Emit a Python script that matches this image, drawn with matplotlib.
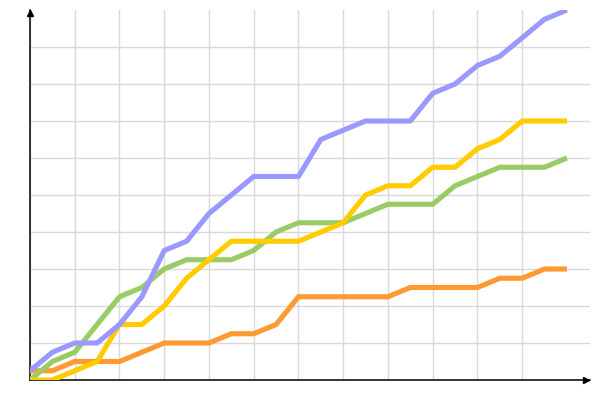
import numpy as np
import matplotlib
matplotlib.use("Agg")
import matplotlib.pyplot as plt

# values, one point per step
steps = list(range(25))
blue = [0.25, 0.75, 1, 1, 1.5, 2.25, 3.5, 3.75, 4.5, 5, 5.5, 5.5, 5.5,
        6.5, 6.75, 7, 7, 7, 7.75, 8, 8.5, 8.75, 9.25, 9.75, 10]
yellow = [0, 0, 0.25, 0.5, 1.5, 1.5, 2, 2.75, 3.25, 3.75, 3.75, 3.75, 3.75,
          4, 4.25, 5, 5.25, 5.25, 5.75, 5.75, 6.25, 6.5, 7, 7, 7]
green = [0, 0.5, 0.75, 1.5, 2.25, 2.5, 3, 3.25, 3.25, 3.25, 3.5, 4, 4.25,
         4.25, 4.25, 4.5, 4.75, 4.75, 4.75, 5.25, 5.5, 5.75, 5.75, 5.75, 6]
orange = [0.25, 0.25, 0.5, 0.5, 0.5, 0.75, 1, 1, 1, 1.25, 1.25, 1.5, 2.25,
          2.25, 2.25, 2.25, 2.25, 2.5, 2.5, 2.5, 2.5, 2.75, 2.75, 3, 3]

fig = plt.figure(figsize=(6, 4), dpi=100)
ax = fig.add_axes([0.05, 0.05, 0.9333, 0.925])

ax.set_xlim(0, 25.03)
ax.set_ylim(0, 10)
ax.set_xticks(np.arange(0, 24, 2))
ax.set_yticks(np.arange(0, 10, 1))
ax.grid(True, color="#d9d9d9", linewidth=1)
ax.set_axisbelow(True)
ax.tick_params(length=0, labelbottom=False, labelleft=False)

for s in ["top", "right"]:
    ax.spines[s].set_visible(False)
for s in ["left", "bottom"]:
    ax.spines[s].set_linewidth(1.1)
    ax.spines[s].set_color("black")

lw = 3.7
ax.plot(steps, orange, color="#ff9933", lw=lw, solid_capstyle="butt", zorder=3)
ax.plot(steps, green, color="#99cc66", lw=lw, solid_capstyle="butt", zorder=3)
ax.plot(steps, yellow, color="#ffcc00", lw=lw, solid_capstyle="butt", zorder=3)
ax.plot(steps, blue, color="#9999ff", lw=lw, solid_capstyle="butt", zorder=4)

# arrow heads on the axes
ax.plot(0, 0.992, marker="^", color="black", ms=4, transform=ax.transAxes, clip_on=False)
ax.plot(0.992, 0, marker=">", color="black", ms=4, transform=ax.transAxes, clip_on=False)

fig.savefig("out.png", dpi=100)
